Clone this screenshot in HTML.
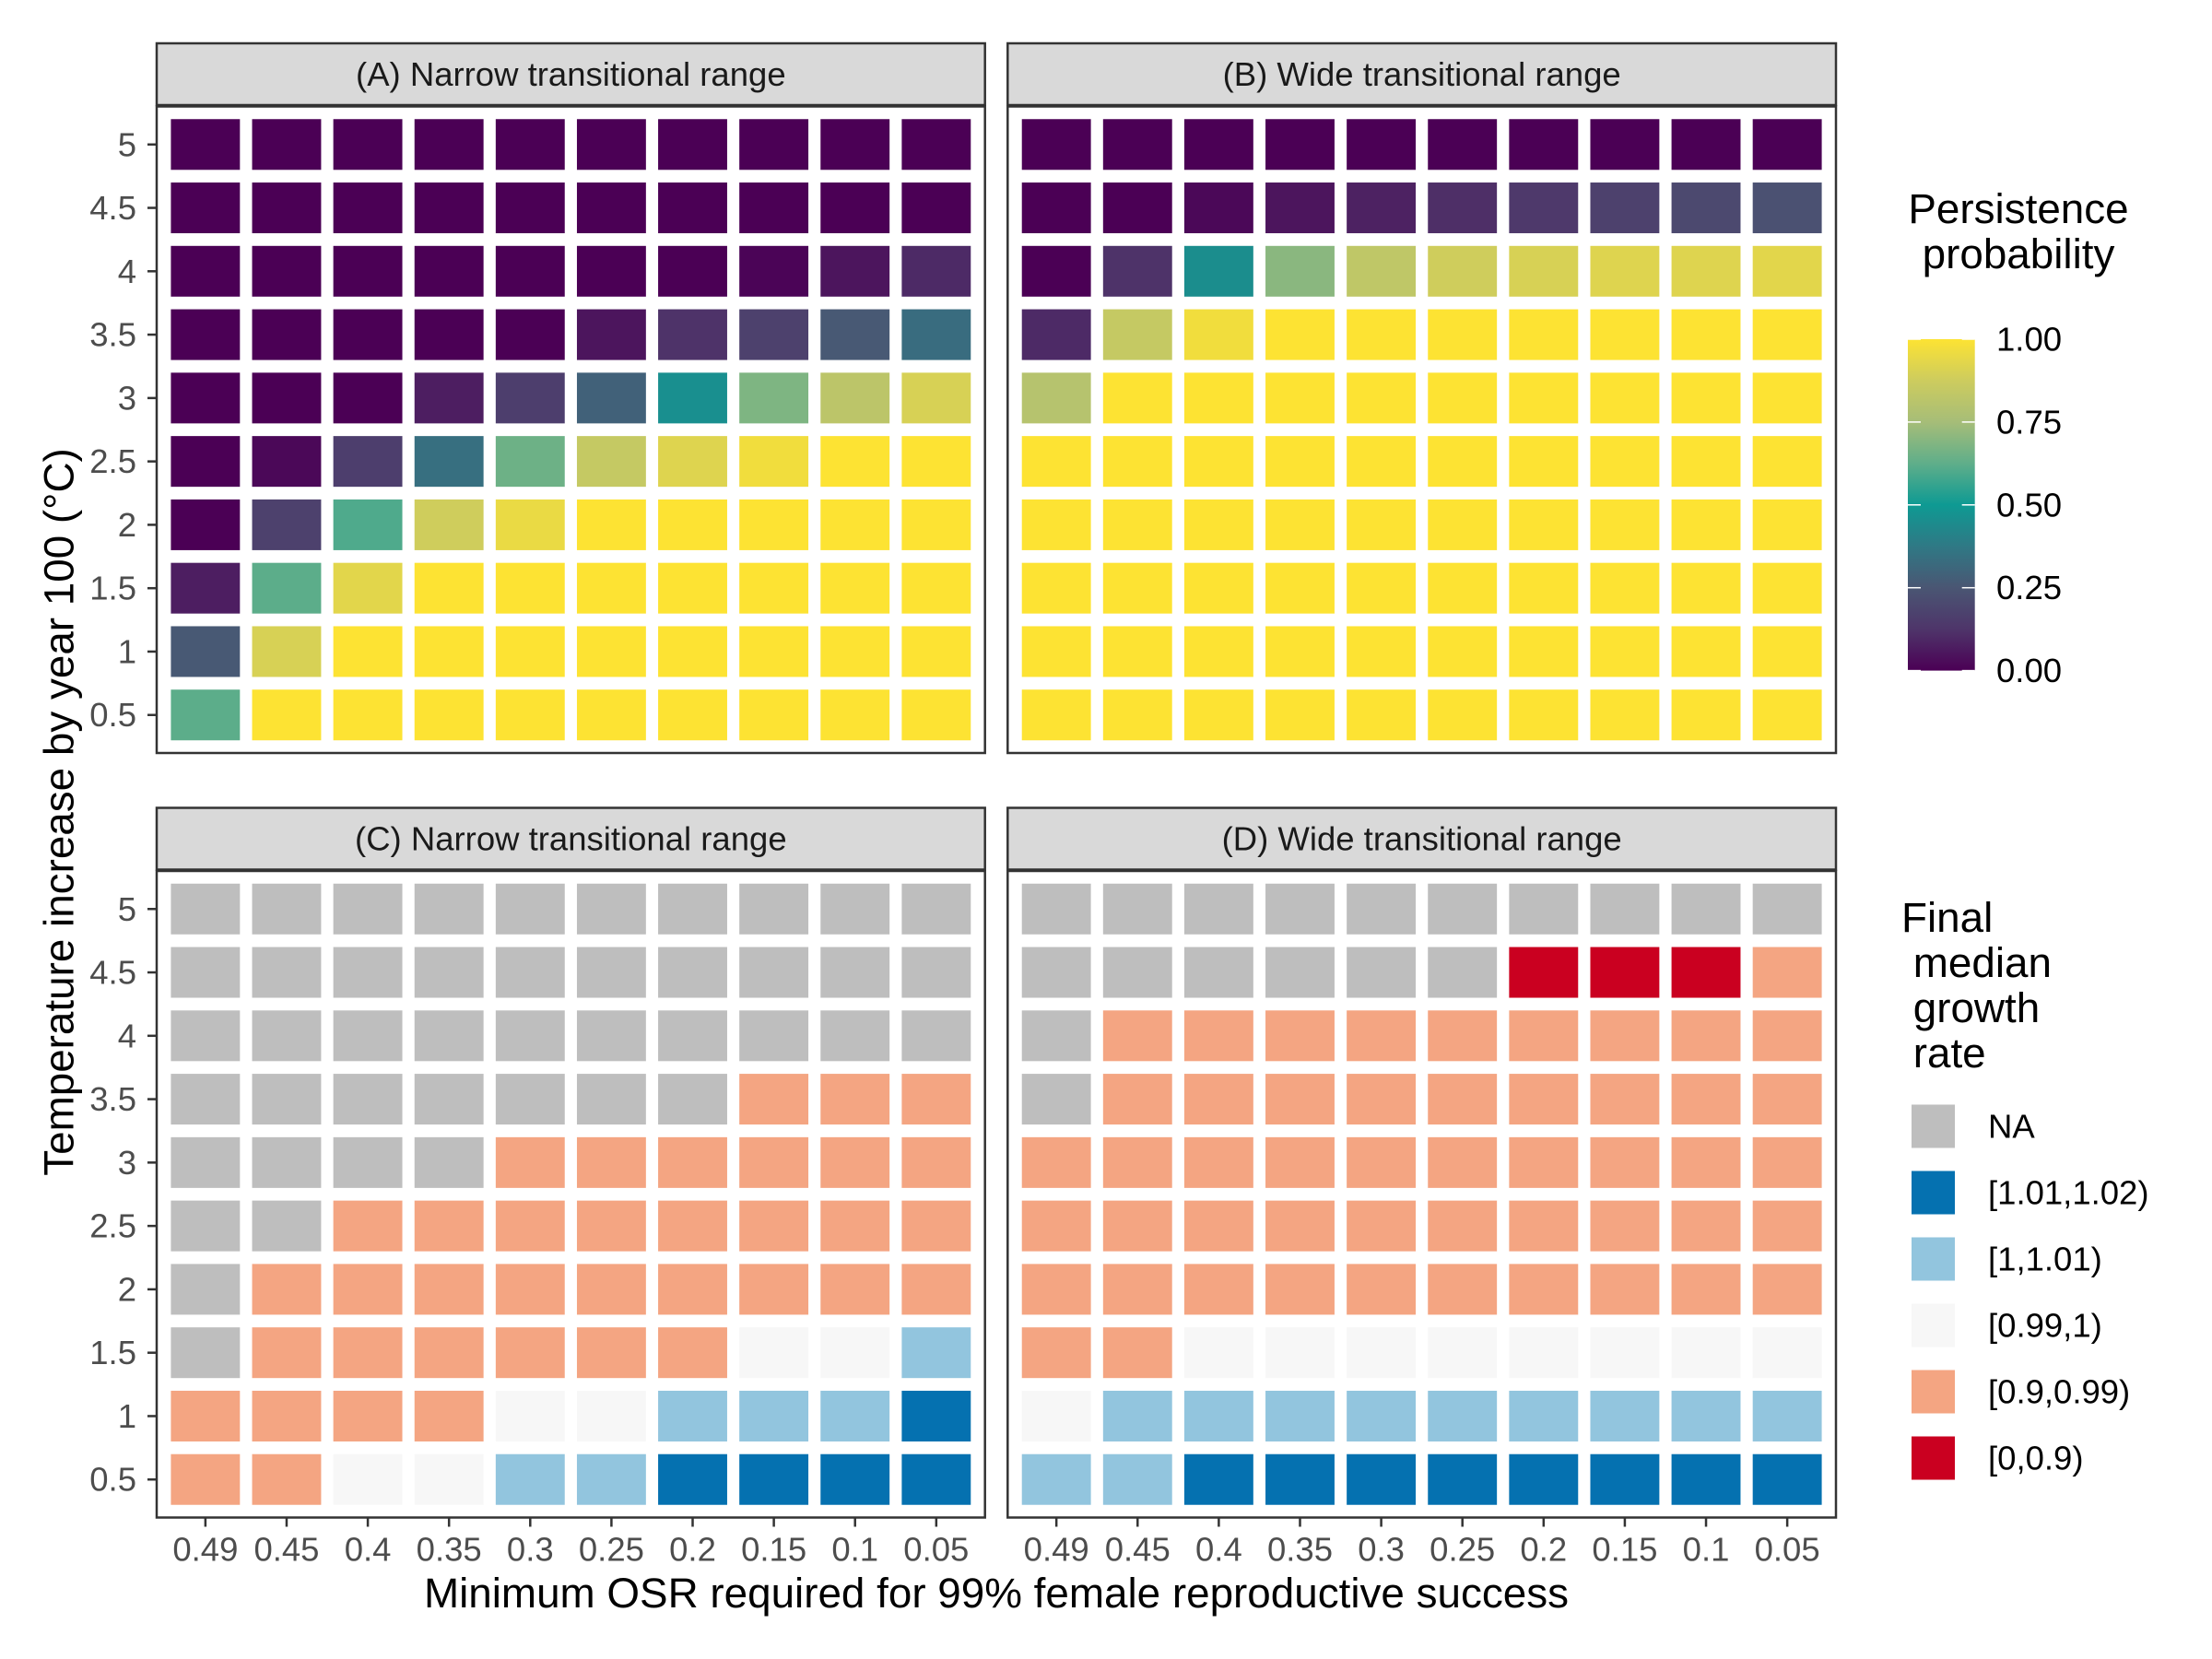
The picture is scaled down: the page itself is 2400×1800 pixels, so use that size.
<!DOCTYPE html>
<html><head><meta charset="utf-8"><style>
html,body{margin:0;padding:0;background:#fff;}
svg{display:block;font-family:"Liberation Sans",Arial,sans-serif;}
</style></head><body>
<svg id="chart" xmlns="http://www.w3.org/2000/svg" width="2400" height="1800" viewBox="0 0 2400 1800">
<defs>
<linearGradient id="vgrad" x1="0" y1="1" x2="0" y2="0">
<stop offset="0" stop-color="#4B0055"/><stop offset="0.125" stop-color="#4E356A"/><stop offset="0.25" stop-color="#4A5673"/><stop offset="0.375" stop-color="#2F7985"/><stop offset="0.5" stop-color="#0E9A93"/><stop offset="0.625" stop-color="#5FAE8A"/><stop offset="0.75" stop-color="#A6BD78"/><stop offset="0.875" stop-color="#CDCC5E"/><stop offset="1" stop-color="#FDE333"/>
</linearGradient>
</defs>
<g id="root"></g>
</svg>
<script>
const xCats = ["0.49","0.45","0.4","0.35","0.3","0.25","0.2","0.15","0.1","0.05"];
const yCats = ["0.5","1","1.5","2","2.5","3","3.5","4","4.5","5"];
// persistence probability, rows from y=5 (top) to 0.5 (bottom)
const panelA = [
[0,0,0,0,0,0,0,0,0,0],
[0,0,0,0,0,0,0,0,0,0],
[0,0,0,0,0,0,0,0.01,0.05,0.1],
[0,0,0,0,0,0.05,0.12,0.17,0.26,0.33],
[0,0,0,0.07,0.16,0.29,0.46,0.68,0.82,0.9],
[0,0.02,0.16,0.34,0.65,0.85,0.92,0.97,1,1],
[0,0.17,0.6,0.88,0.95,1,1,1,1,1],
[0.07,0.62,0.93,1,1,1,1,1,1,1],
[0.26,0.9,1,1,1,1,1,1,1,1],
[0.62,1,1,1,1,1,1,1,1,1]];
const panelB = [
[0,0,0,0,0,0,0,0,0,0],
[0,0,0.02,0.05,0.08,0.11,0.14,0.17,0.2,0.23],
[0,0.12,0.45,0.7,0.83,0.88,0.9,0.92,0.92,0.93],
[0.1,0.85,0.97,1,1,1,1,1,1,1],
[0.8,1,1,1,1,1,1,1,1,1],
[1,1,1,1,1,1,1,1,1,1],
[1,1,1,1,1,1,1,1,1,1],
[1,1,1,1,1,1,1,1,1,1],
[1,1,1,1,1,1,1,1,1,1],
[1,1,1,1,1,1,1,1,1,1]];
// growth rate category codes: N=NA b=[1.01,1.02) l=[1,1.01) w=[0.99,1) o=[0.9,0.99) r=[0,0.9)
const panelC = ["NNNNNNNNNN","NNNNNNNNNN","NNNNNNNNNN","NNNNNNNooo","NNNNoooooo","NNoooooooo","Nooooooooo","Noooooowwl","oooowwlllb","oowwllbbbb"];
const panelD = ["NNNNNNNNNN","NNNNNNrrro","Nooooooooo","Nooooooooo","oooooooooo","oooooooooo","oooooooooo","oowwwwwwww","wlllllllll","llbbbbbbbb"];
const catCodes = ["N","b","l","w","o","r"];
const catLabels = ["NA","[1.01,1.02)","[1,1.01)","[0.99,1)","[0.9,0.99)","[0,0.9)"];
const catColors = ["#BEBEBE","#0571B0","#92C5DE","#F7F7F7","#F4A582","#CA0020"];
const cbTicks = [0,0.25,0.5,0.75,1];
const cbLabels = ["0.00","0.25","0.50","0.75","1.00"];

const NS="http://www.w3.org/2000/svg";
const root=document.getElementById('root');
function mk(tag,attrs,parent){const e=document.createElementNS(NS,tag);for(const k in attrs)e.setAttribute(k,attrs[k]);(parent||root).appendChild(e);return e;}
function hex(c){return [parseInt(c.slice(1,3),16),parseInt(c.slice(3,5),16),parseInt(c.slice(5,7),16)];}
const gStops=[[0,"#4B0055"],[0.125,"#4E356A"],[0.25,"#4A5673"],[0.375,"#2F7985"],[0.5,"#0E9A93"],[0.625,"#5FAE8A"],[0.75,"#A6BD78"],[0.875,"#CDCC5E"],[1,"#FDE333"]];
function pal(v){v=Math.max(0,Math.min(1,v));for(let i=0;i<gStops.length-1;i++){const[a,ca]=gStops[i],[b,cb]=gStops[i+1];if(v<=b){const t=(v-a)/(b-a);const A=hex(ca),B=hex(cb);return "rgb("+A.map((x,j)=>Math.round(x+(B[j]-x)*t)).join(",")+")";}}return gStops[gStops.length-1][1];}

const PW=898.7, PH=701.5;
const SMALL=36.5, BIG=45.8;
const panels=[
 {id:"a",x:170,y:115.5,title:"(A) Narrow transitional range",data:panelA,type:"c",ylab:true,xlab:false},
 {id:"b",x:1093.3,y:115.5,title:"(B) Wide transitional range",data:panelB,type:"c",ylab:false,xlab:false},
 {id:"c",x:170,y:945,title:"(C) Narrow transitional range",data:panelC,type:"d",ylab:true,xlab:true},
 {id:"d",x:1093.3,y:945,title:"(D) Wide transitional range",data:panelD,type:"d",ylab:false,xlab:true}];
const ux=PW/10.2, uy=PH/10.2;
function xs(p,i){return p.x+(0.6+i)*ux;}
function ys(p,j){return p.y+PH-(0.6+j)*uy;}

panels.forEach(p=>{
  const g=mk('g',{});
  
  
  const st=mk('rect',{x:p.x,y:p.y-68.5,width:PW,height:67,fill:"#D9D9D9",stroke:"#333333","stroke-width":2.5},g);
  
  
  const t=mk('text',{x:p.x+PW/2,y:p.y-35,"text-anchor":"middle","dominant-baseline":"central","font-size":SMALL,fill:"#1A1A1A"},g);
  t.textContent=p.title;
  
  
  for(let r=0;r<10;r++){
    const j=9-r;
    for(let i=0;i<10;i++){
      let fill;
      if(p.type==="c") fill=pal(p.data[r][i]);
      else fill=catColors[catCodes.indexOf(p.data[r][i])];
      const rc=mk('rect',{x:xs(p,i)-0.425*ux,y:ys(p,j)-0.4*uy,width:0.85*ux,height:0.8*uy,fill:fill},g);
      
      
    }
  }
  const b=mk('rect',{x:p.x,y:p.y,width:PW,height:PH,fill:"none",stroke:"#333333","stroke-width":2.5},g);
  
  
  if(p.ylab){
    yCats.forEach((c,j)=>{
      mk('line',{x1:p.x-10,x2:p.x,y1:ys(p,j),y2:ys(p,j),stroke:"#333333","stroke-width":2.5},g);
      const tl=mk('text',{x:p.x-22,y:ys(p,j),"text-anchor":"end","dominant-baseline":"central","font-size":SMALL,fill:"#4D4D4D"},g);
      tl.textContent=c;
      
      
    });
  }
  if(p.xlab){
    xCats.forEach((c,i)=>{
      mk('line',{x1:xs(p,i),x2:xs(p,i),y1:p.y+PH,y2:p.y+PH+10,stroke:"#333333","stroke-width":2.5},g);
      const tl=mk('text',{x:xs(p,i),y:p.y+PH+47,"text-anchor":"middle","font-size":SMALL,fill:"#4D4D4D"},g);
      tl.textContent=c;
      
      
    });
  }
});

const xt=mk('text',{x:1081,y:1744,"text-anchor":"middle","font-size":BIG,fill:"#000"});
xt.textContent="Minimum OSR required for 99% female reproductive success";


const yt=mk('text',{x:0,y:0,"text-anchor":"middle","dominant-baseline":"central","font-size":BIG,fill:"#000",transform:"translate(64,881) rotate(-90)"});
yt.textContent="Temperature increase by year 100 (°C)";



// colorbar legend
const lg1=mk('g',{});


const t1=mk('text',{x:2190,y:242,"text-anchor":"middle","font-size":BIG,fill:"#000"},lg1);t1.textContent="Persistence";


const t2=mk('text',{x:2190,y:291,"text-anchor":"middle","font-size":BIG,fill:"#000"},lg1);t2.textContent="probability";


const cbTop=368, cbBot=727.6, cbX=2070, cbW=72.7;
const cb=mk('rect',{x:cbX,y:cbTop,width:cbW,height:cbBot-cbTop,fill:"url(#vgrad)"},lg1);


cbTicks.forEach((v,k)=>{
  const y=cbBot-(cbBot-cbTop)*v;
  mk('line',{x1:cbX,x2:cbX+14,y1:y,y2:y,stroke:"#fff","stroke-width":1.5},lg1);
  mk('line',{x1:cbX+cbW-14,x2:cbX+cbW,y1:y,y2:y,stroke:"#fff","stroke-width":1.5},lg1);
  const l=mk('text',{x:2166,y:y,"dominant-baseline":"central","font-size":SMALL,fill:"#000"},lg1);
  l.textContent=cbLabels[k];
  
  
});

// categorical legend
const lg2=mk('g',{});


[["Final",2063,1011],[" median",2063,1060],[" growth",2063,1109],[" rate",2063,1158]].forEach(a=>{
  const t=mk('text',{x:a[1],y:a[2],"font-size":BIG,fill:"#000","xml:space":"preserve"},lg2);
  t.textContent=a[0];
  t.style.whiteSpace="pre";
  
  
});
catLabels.forEach((lab,k)=>{
  const cy=1222+72*k;
  const r=mk('rect',{x:2074,y:cy-23.5,width:47,height:47,fill:catColors[k]},lg2);
  
  
  const t=mk('text',{x:2157,y:cy,"dominant-baseline":"central","font-size":SMALL,fill:"#000"},lg2);
  t.textContent=lab;
  
  
});
</script>
</body></html>
